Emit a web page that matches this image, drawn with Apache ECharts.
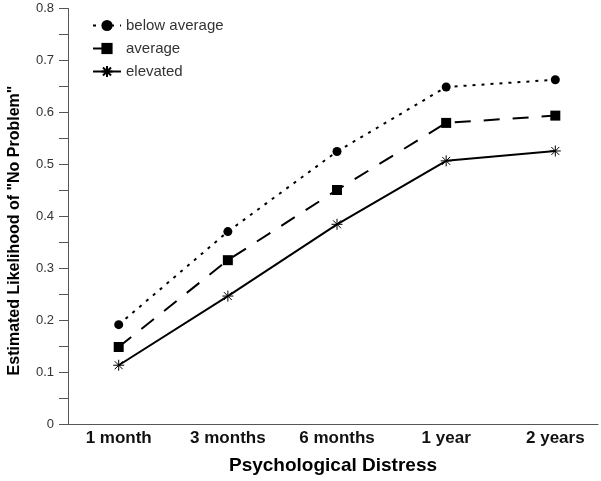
<!DOCTYPE html>
<html>
<head>
<meta charset="utf-8">
<script src="https://cdn.jsdelivr.net/npm/echarts@6/dist/echarts.min.js"></script>
<style>html,body{margin:0;padding:0;background:#fff}#c{width:601px;height:481px}</style>
</head>
<body>
<div id="c"></div>
<script>
const categories = ['1 month', '3 months', '6 months', '1 year', '2 years'];
const belowAverage = [0.192, 0.371, 0.525, 0.649, 0.663];
const average = [0.149, 0.316, 0.451, 0.580, 0.594];
const elevated = [0.114, 0.247, 0.385, 0.507, 0.526];
const yTickLabels = ['0', '0.1', '0.2', '0.3', '0.4', '0.5', '0.6', '0.7', '0.8'];

const toPts = arr => arr.map((v, i) => [i, v]);
const starPath = 'path://M0,-5L0,5M-5,0L5,0M-3.6,-3.6L3.6,3.6M-3.6,3.6L3.6,-3.6';
const FONT = 'Liberation Sans, Arial';

const chart = echarts.init(document.getElementById('c'));
chart.setOption({
  animation: false,
  backgroundColor: '#fff',
  grid: { left: 68, right: 3, top: 8.5, bottom: 56.5, containLabel: false, outerBoundsMode: 'none' },
  legend: {
    left: 87, top: 13, orient: 'vertical', itemGap: 8, itemWidth: 28, itemHeight: 14,
    textStyle: { fontFamily: FONT, fontSize: 15, color: '#333' },
    data: ['below average', 'average', 'elevated']
  },
  xAxis: {
    type: 'value', min: -0.4645, max: 4.391,
    name: 'Psychological Distress', nameLocation: 'middle', nameGap: 32,
    nameTextStyle: { fontFamily: FONT, fontSize: 19, fontWeight: 'bold', color: '#000' },
    axisLine: { show: true, onZero: false, lineStyle: { color: '#555', width: 1 } },
    axisTick: { show: false },
    splitLine: { show: false },
    axisLabel: {
      customValues: [0, 1, 2, 3, 4], margin: 5,
      fontFamily: FONT, fontSize: 17, fontWeight: 'bold', color: '#111',
      formatter: v => categories[Math.round(v)]
    }
  },
  yAxis: {
    type: 'value', min: 0, max: 0.8, interval: 0.05,
    name: 'Estimated Likelihood of "No Problem"', nameLocation: 'middle', nameGap: 45,
    nameTextStyle: { fontFamily: FONT, fontSize: 16, fontWeight: 'bold', color: '#000', padding: [0, 28, 0, 0] },
    axisLine: { show: true, onZero: false, lineStyle: { color: '#555', width: 1 } },
    axisTick: { show: true, length: 9, lineStyle: { color: '#555' } },
    splitLine: { show: false },
    axisLabel: {
      margin: 14, fontFamily: FONT, fontSize: 13, color: '#333',
      formatter: v => {
        const k = Math.round(v * 20);
        return k % 2 === 0 ? yTickLabels[k / 2] : '';
      }
    }
  },
  series: [
    {
      name: 'below average', type: 'line', data: toPts(belowAverage),
      symbol: 'circle', symbolSize: 9,
      lineStyle: { color: '#000', width: 2, type: [3, 6] },
      itemStyle: { color: '#000' }
    },
    {
      name: 'average', type: 'line', data: toPts(average),
      symbol: 'rect', symbolSize: 10,
      lineStyle: { color: '#000', width: 2, type: [16, 13] },
      itemStyle: { color: '#000' }
    },
    {
      name: 'elevated', type: 'line', data: toPts(elevated),
      symbol: starPath, symbolSize: 11,
      lineStyle: { color: '#000', width: 2, type: 'solid' },
      itemStyle: { color: '#000', borderColor: '#000', borderWidth: 1 }
    }
  ]
});
</script>
</body>
</html>
